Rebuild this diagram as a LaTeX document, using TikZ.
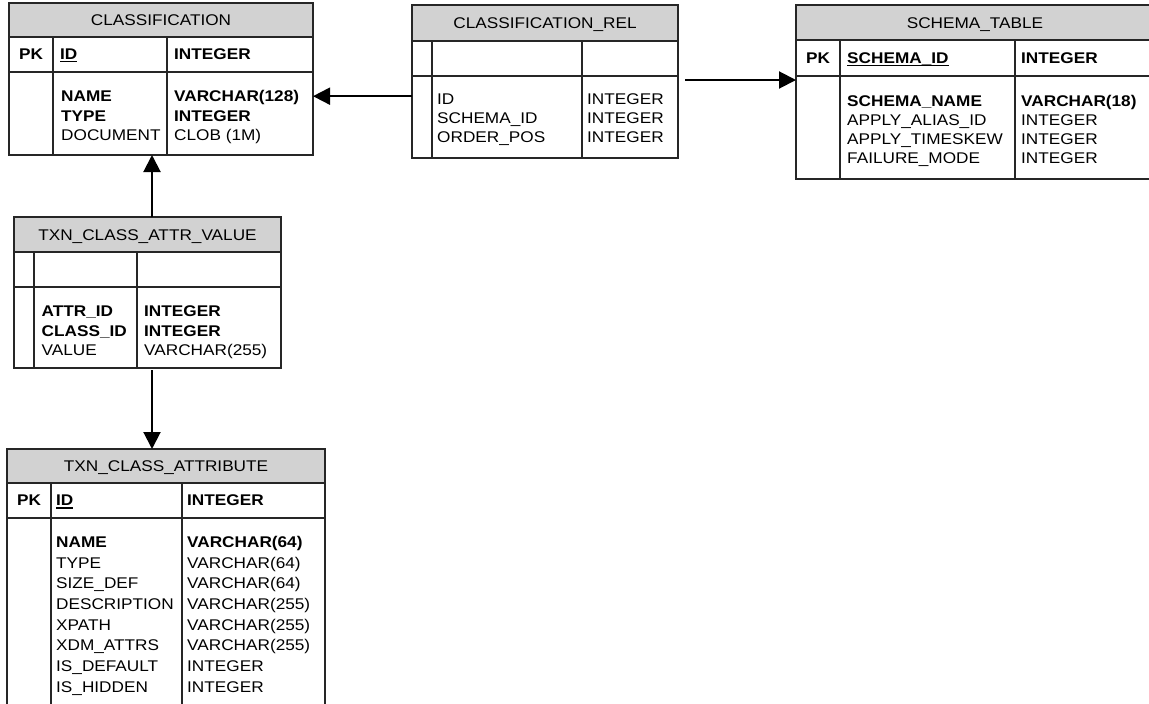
\documentclass[tikz,border=0pt]{standalone}
\usepackage{fontspec}
\setmainfont{Liberation Sans}[FakeStretch=1.11]
\usetikzlibrary{arrows.meta}

\newcommand{\erfont}{\fontsize{15.5}{18}\selectfont}
\newcommand{\keyfield}[1]{\setbox0=\hbox{#1}\rlap{\rule[-3pt]{\wd0}{1.3pt}}\box0}

\begin{document}
\begin{tikzpicture}[x=1pt, y=-1pt,
    tbl/.style={draw=black!85, line width=1.3pt, inner sep=0pt, outer sep=0pt, anchor=north west},
    hdr/.style={tbl, fill=gray!35, font=\erfont, text height=11pt, text depth=0pt},
    grid/.style={draw=black!85, line width=1.3pt},
    fld/.style={anchor=base west, inner sep=0pt, font=\erfont},
    pk/.style={anchor=base, inner sep=0pt, font=\erfont\bfseries},
    arr/.style={line width=2pt, -{Triangle[length=17pt, width=17pt]}}]

    \fill[white] (0,0) rectangle (1149,704);
    \clip (0,0) rectangle (1149,704);

    % CLASSIFICATION
    \node[hdr, minimum width=304pt, minimum height=34pt] (clshead) at (9,3) {CLASSIFICATION};
    \node[tbl, minimum width=304pt, minimum height=35pt] (clspk) at (clshead.south west) {};
    \node[tbl, minimum width=304pt, minimum height=83pt] (clsbody) at (clspk.south west) {};
    \foreach \x in {53,167} \draw[grid] (\x,37) -- (\x,155);
    \node[pk] (clskey) at (31,59.5) {PK};
    \node[fld] (clsid) at (60,59.5) {\keyfield{\textbf{ID}}};
    \node[fld] (clsidtype) at (174,59.5) {\textbf{INTEGER}};
    \foreach \n/\t [count=\i] in {\textbf{NAME}/\textbf{VARCHAR(128)}, \textbf{TYPE}/\textbf{INTEGER}, DOCUMENT/CLOB (1M)} {
        \node[fld] (clsname\i) at (61, {101.5+19.5*(\i-1)}) {\n};
        \node[fld] (clstype\i) at (174, {101.5+19.5*(\i-1)}) {\t};
    }

    % CLASSIFICATION_REL
    \node[hdr, minimum width=266pt, minimum height=36pt] (relhead) at (412,5) {CLASSIFICATION\_REL};
    \node[tbl, minimum width=266pt, minimum height=35pt] (relpk) at (relhead.south west) {};
    \node[tbl, minimum width=266pt, minimum height=82pt] (relbody) at (relpk.south west) {};
    \foreach \x in {432,582} \draw[grid] (\x,41) -- (\x,158);
    \foreach \n [count=\i] in {ID, SCHEMA\_ID, ORDER\_POS} {
        \node[fld] (relname\i) at (437, {104+19.2*(\i-1)}) {\n};
        \node[fld] (reltype\i) at (587, {104+19.2*(\i-1)}) {INTEGER};
    }

    % SCHEMA_TABLE
    \node[hdr, minimum width=358pt, minimum height=35pt] (schhead) at (796,5) {SCHEMA\_TABLE};
    \node[tbl, minimum width=358pt, minimum height=36pt] (schpk) at (schhead.south west) {};
    \node[tbl, minimum width=358pt, minimum height=103pt] (schbody) at (schpk.south west) {};
    \foreach \x in {840,1015} \draw[grid] (\x,40) -- (\x,179);
    \node[pk] (schkey) at (818,63) {PK};
    \node[fld] (schid) at (847,63) {\keyfield{\textbf{SCHEMA\_ID}}};
    \node[fld] (schidtype) at (1021,63) {\textbf{INTEGER}};
    \foreach \n/\t [count=\i] in {\textbf{SCHEMA\_NAME}/\textbf{VARCHAR(18)}, APPLY\_ALIAS\_ID/INTEGER, APPLY\_TIMESKEW/INTEGER, FAILURE\_MODE/INTEGER} {
        \node[fld] (schname\i) at (847, {106+19*(\i-1)}) {\n};
        \node[fld] (schtype\i) at (1021, {106+19*(\i-1)}) {\t};
    }

    % TXN_CLASS_ATTR_VALUE
    \node[hdr, minimum width=267pt, minimum height=35pt] (valhead) at (14,217) {TXN\_CLASS\_ATTR\_VALUE};
    \node[tbl, minimum width=267pt, minimum height=35pt] (valpk) at (valhead.south west) {};
    \node[tbl, minimum width=267pt, minimum height=81pt] (valbody) at (valpk.south west) {};
    \foreach \x in {34,137} \draw[grid] (\x,252) -- (\x,368);
    \foreach \n/\t [count=\i] in {\textbf{ATTR\_ID}/\textbf{INTEGER}, \textbf{CLASS\_ID}/\textbf{INTEGER}, VALUE/VARCHAR(255)} {
        \node[fld] (valname\i) at (41.5, {316.7+19.5*(\i-1)}) {\n};
        \node[fld] (valtype\i) at (144, {316.7+19.5*(\i-1)}) {\t};
    }

    % TXN_CLASS_ATTRIBUTE
    \node[hdr, minimum width=318pt, minimum height=34pt] (attrhead) at (7,449) {TXN\_CLASS\_ATTRIBUTE};
    \node[tbl, minimum width=318pt, minimum height=35pt] (attrpk) at (attrhead.south west) {};
    \node[tbl, minimum width=318pt, minimum height=194pt] (attrbody) at (attrpk.south west) {};
    \foreach \x in {51,182} \draw[grid] (\x,483) -- (\x,712);
    \node[pk] (attrkey) at (29,505.5) {PK};
    \node[fld] (attrid) at (56,505.5) {\keyfield{\textbf{ID}}};
    \node[fld] (attridtype) at (187,505.5) {\textbf{INTEGER}};
    \foreach \n/\t [count=\i] in {\textbf{NAME}/\textbf{VARCHAR(64)}, TYPE/VARCHAR(64), SIZE\_DEF/VARCHAR(64), DESCRIPTION/VARCHAR(255), XPATH/VARCHAR(255), XDM\_ATTRS/VARCHAR(255), IS\_DEFAULT/INTEGER, IS\_HIDDEN/INTEGER} {
        \node[fld] (attrname\i) at (56, {547.3+20.7*(\i-1)}) {\n};
        \node[fld] (attrtype\i) at (187, {547.3+20.7*(\i-1)}) {\t};
    }

    % Relations
    \draw[arr] (relbody.west |- clsname1) -- (clsbody.east |- clsname1);
    \draw[arr] ([xshift=7pt, yshift=-4pt]relpk.south east) -- ([yshift=-4pt]schpk.south west);
    \coordinate (valtop) at ([xshift=4.5pt]valhead.north);
    \draw[arr] (valtop) -- (valtop |- clsbody.south);
    \coordinate (valbot) at ([xshift=4.5pt, yshift=-2pt]valbody.south);
    \draw[arr] (valbot) -- (valbot |- attrhead.north);
\end{tikzpicture}
\end{document}
